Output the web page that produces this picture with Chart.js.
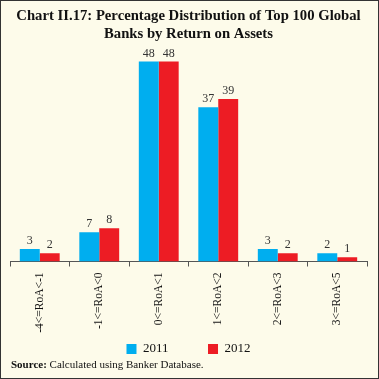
<!DOCTYPE html>
<html>
<head>
<meta charset="utf-8">
<script src="https://cdn.jsdelivr.net/npm/chart.js@4"></script>
<style>
  html, body { margin: 0; padding: 0; background: #fff; }
  #wrap {
    width: 379px; height: 379px; box-sizing: border-box;
    border: 1px solid #333; background: #fdfbea; position: relative;
  }
  canvas { display: block; }
</style>
</head>
<body>
<div id="wrap"><canvas id="graph" width="377" height="377"></canvas></div>
<script>
// data
var categories = ["-4<=RoA<-1", "-1<=RoA<0", "0<=RoA<1", "1<=RoA<2", "2<=RoA<3", "3<=RoA<5"];
var values2011 = [3, 7, 48, 37, 3, 2];
var values2012 = [2, 8, 48, 39, 2, 1];
var seriesNames = ["2011", "2012"];

var serif = "'Liberation Serif', 'Times New Roman', serif";

// value labels above each bar
var barLabels = {
  id: "barLabels",
  afterDatasetsDraw: function(chart) {
    var ctx = chart.ctx;
    ctx.save();
    ctx.font = "12px " + serif;
    ctx.fillStyle = "#333";
    ctx.textAlign = "center";
    ctx.textBaseline = "bottom";
    chart.data.datasets.forEach(function(ds, i) {
      chart.getDatasetMeta(i).data.forEach(function(bar, j) {
        ctx.fillText(ds.data[j], bar.x, bar.y - 2);
      });
    });
    ctx.restore();
  }
};

// x labels run down into the empty top of the legend box, so widen the label clip
var labelRoom = {
  id: "labelRoom",
  afterLayout: function(chart) {
    chart.scales.x.bottom = chart.scales.x.top + 80;
  }
};

// source note at the bottom
var sourceNote = {
  id: "sourceNote",
  afterDraw: function(chart) {
    var ctx = chart.ctx;
    ctx.save();
    ctx.fillStyle = "#111";
    ctx.textBaseline = "middle";
    ctx.font = "bold 11px " + serif;
    ctx.fillText("Source:", 10, 364);
    var w = ctx.measureText("Source: ").width;
    ctx.font = "11px " + serif;
    ctx.fillText("Calculated using Banker Database.", 10 + w, 364);
    ctx.restore();
  }
};

var chart = new Chart("graph", {
  type: "bar",
  data: {
    labels: categories,
    datasets: [{
      label: seriesNames[0],
      data: values2011,
      backgroundColor: "#00aeef",
      barPercentage: 1,
      categoryPercentage: 0.67
    }, {
      label: seriesNames[1],
      data: values2012,
      backgroundColor: "#ed1c24",
      barPercentage: 1,
      categoryPercentage: 0.67
    }]
  },
  options: {
    responsive: false,
    animation: false,
    layout: { padding: { left: 9, right: 11, top: 0, bottom: 12.5 } },
    plugins: {
      title: {
        display: true,
        text: ["Chart II.17: Percentage Distribution of Top 100 Global", "Banks by Return on Assets"],
        color: "#111",
        font: { family: serif, size: 14.7, weight: "bold", lineHeight: 1.25 },
        padding: { top: 6, bottom: 9.4 }
      },
      legend: {
        position: "bottom",
        labels: {
          boxWidth: 10, boxHeight: 10,
          padding: 39.5,
          color: "#111",
          font: { family: serif, size: 13 }
        }
      },
      tooltip: { enabled: false }
    },
    scales: {
      x: {
        afterFit: function(scale) { scale.height = 41.5; },
        grid: { display: true, drawOnChartArea: false, tickLength: 5, color: "#555" },
        border: { color: "#555" },
        ticks: { color: "#111", padding: 6, maxRotation: 90, minRotation: 90, font: { family: serif, size: 11.5 } }
      },
      y: {
        display: false,
        min: 0,
        max: 50
      }
    }
  },
  plugins: [barLabels, labelRoom, sourceNote]
});
</script>
</body>
</html>
